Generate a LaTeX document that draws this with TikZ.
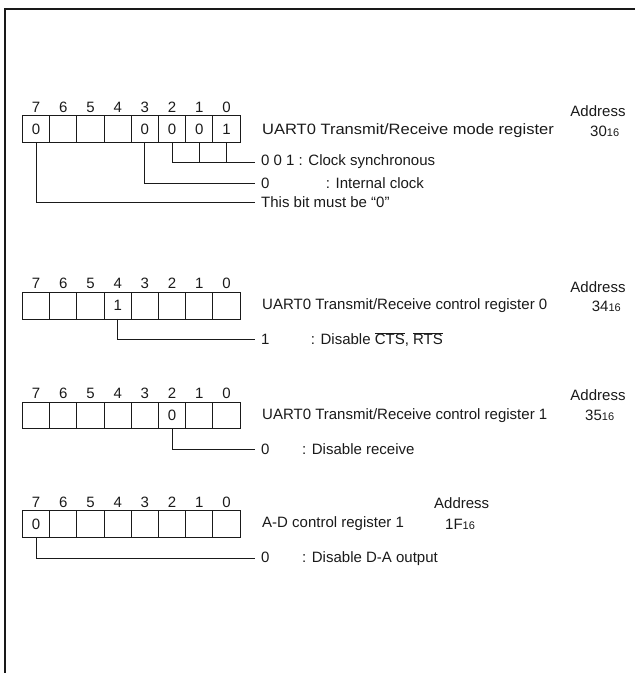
\documentclass[tikz,border=0pt]{standalone}
\usepackage{fontspec}
\setmainfont{Liberation Sans}
\newfontfamily\widesans{Liberation Sans}[FakeStretch=1.1]
\usetikzlibrary{positioning}
\definecolor{Ink}{HTML}{1A1A1A}
\newcommand{\hexsub}[1]{{\fontsize{11}{12}\selectfont #1}}

\begin{document}
\begin{tikzpicture}[x=1pt,y=-1pt,
    cell/.style={draw=Ink,line width=0.9pt,minimum width=27.2pt,minimum height=26.5pt,
      inner sep=0pt,outer sep=0pt},
    bitno/.style={inner sep=0pt,text=Ink,font=\fontsize{15}{18}\selectfont},
    val/.style={inner sep=0pt,text=Ink,font=\fontsize{15}{18}\selectfont},
    txt/.style={anchor=west,inner sep=0pt,text=Ink,font=\fontsize{15}{18}\selectfont},
    addr/.style={inner sep=0pt,text=Ink,font=\fontsize{15}{18}\selectfont},
    desc/.style={anchor=west,inner xsep=6pt,inner ysep=0pt,text=Ink,
      font=\fontsize{15}{18}\selectfont},
    lead/.style={draw=Ink,line width=0.9pt}]
  \useasboundingbox (0,0) rectangle (635,673);
  % frame
  \draw[line width=2.4pt,black!90] (5,690) -- (5,9) -- (650,9);
  % bit cells and bit numbers
  \foreach \rg/\y in {a/129,b/305.7,c/415.5,d/524}{
    \foreach \bit in {0,...,7}{
      \node[cell] (\rg\bit) at ({36.1+27.2*(7-\bit)},\y) {};
      \node[bitno] (\rg n\bit) at ({36.1+27.2*(7-\bit)},{\y-22}) {\bit};
    }
  }
  % bit values
  \node[val] (va7) at (a7) {0};
  \node[val] (va3) at (a3) {0};
  \node[val] (va2) at (a2) {0};
  \node[val] (va1) at (a1) {0};
  \node[val] (va0) at (a0) {1};
  \node[val] (vb4) at (b4) {1};
  \node[val] (vc2) at (c2) {0};
  \node[val] (vd7) at (d7) {0};
  % register names and addresses
  \node[txt] (ta) at (262,131) {\widesans UART0 Transmit/Receive mode register};
  \node[txt] (tb) at (262,306) {UART0 Transmit/Receive control register 0};
  \node[txt] (tc) at (262,415.5) {UART0 Transmit/Receive control register 1};
  \node[txt] (td) at (262,524) {A-D control register 1};
  \node[addr] (adra) at (598,110.7) {Address};
  \node[addr] (adrb) at (598,287) {Address};
  \node[addr] (adrc) at (598,395) {Address};
  \node[addr] (adrd) at (461.7,503.3) {Address};
  \node[txt] (numa) at (590,131) {30\hexsub{16}};
  \node[txt] (numb) at (591.7,306) {34\hexsub{16}};
  \node[txt] (numc) at (585,415.5) {35\hexsub{16}};
  \node[txt] (numd) at (445,524) {1F\hexsub{16}};
  % bit descriptions
  \node[desc] (da1) at (255,162) {0 0 1 : Clock synchronous};
  \node[desc] (da2) at (255,183) {\makebox[64.7pt][l]{0}: Internal clock};
  \node[desc] (da3) at (255,202.5) {This bit must be “0”};
  \node[desc] (db1) at (255,339.5) {\makebox[49.7pt][l]{1}: Disable
    $\overline{\mbox{CTS}}$, $\overline{\mbox{RTS}}$};
  \node[desc] (dc1) at (255,449.5) {\makebox[41pt][l]{0}: Disable receive};
  \node[desc] (dd1) at (255,558.5) {\makebox[41pt][l]{0}: Disable D-A output};
  % leader lines
  \draw[lead] (a2.south) |- (da1.west);
  \draw[lead] (a1.south) -- (a1.south |- da1.west);
  \draw[lead] (a0.south) -- (a0.south |- da1.west);
  \draw[lead] (a3.south) |- (da2.west);
  \draw[lead] (a7.south) |- (da3.west);
  \draw[lead] (b4.south) |- (db1.west);
  \draw[lead] (c2.south) |- (dc1.west);
  \draw[lead] (d7.south) |- (dd1.west);
\end{tikzpicture}
\end{document}
